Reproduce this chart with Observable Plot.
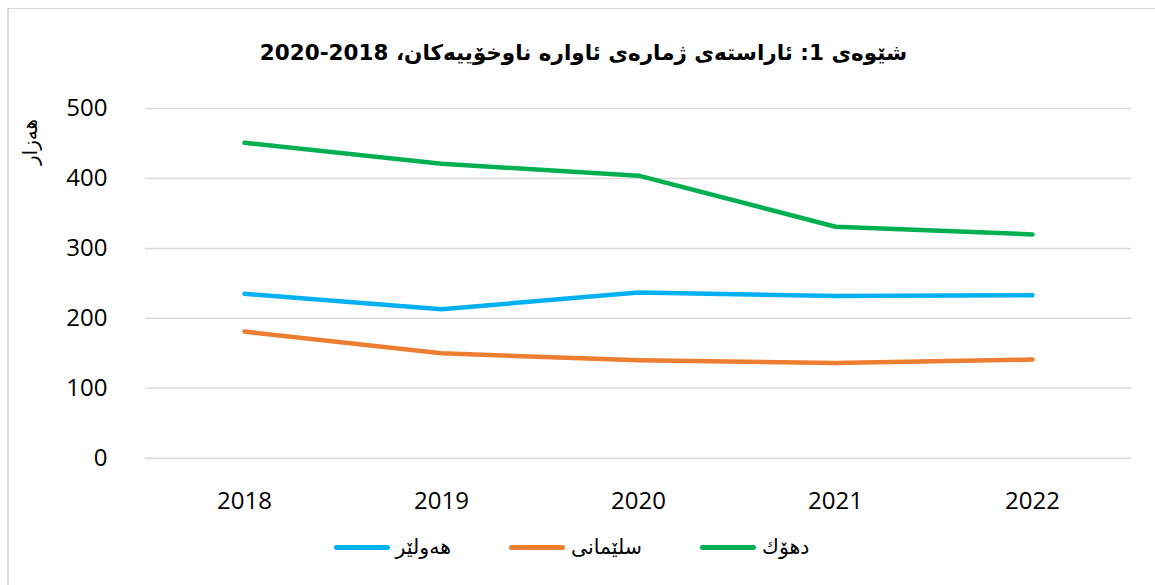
<!DOCTYPE html>
<html>
<head>
<meta charset="utf-8">
<script src="https://cdn.jsdelivr.net/npm/d3@7"></script>
<script src="https://cdn.jsdelivr.net/npm/@observablehq/plot@0.6"></script>
<style>
  html, body { margin: 0; padding: 0; background: #fff; }
  #wrap { position: relative; width: 1155px; height: 585px; overflow: hidden; background: #fff; }
  #frame { position: absolute; left: 7px; top: 8px; width: 1160px; height: 600px; border-top: 1px solid #d9d9d9; border-left: 2px solid #d9d9d9; box-sizing: border-box; }
  #title { position: absolute; left: 6px; top: 40px; width: 1155px; text-align: center; font-family: "DejaVu Sans", sans-serif; font-weight: bold; font-size: 21.5px; color: #000; direction: rtl; }
  #ylabel { position: absolute; left: 30px; top: 142px; transform: translate(-50%, -50%) rotate(-90deg); font-family: "DejaVu Sans", sans-serif; font-size: 20px; color: #000; white-space: nowrap; direction: rtl; }
  #chart { position: absolute; left: 0; top: 80px; }
  #legend { position: absolute; left: -6px; top: 535px; width: 1155px; display: flex; justify-content: center; direction: ltr; font-family: "DejaVu Sans", sans-serif; font-size: 20.5px; color: #000; }
  .item { display: flex; align-items: center; margin: 0 29px; }
  .sw { width: 56px; height: 5px; border-radius: 3px; margin-right: 6px; }
</style>
</head>
<body>
<div id="wrap">
  <div id="frame"></div>
  <div id="title"></div>
  <div id="ylabel"></div>
  <div id="chart"></div>
  <div id="legend"></div>
</div>
<script>
const titleText = "شێوەی 1: ئاراستەی ژمارەی ئاوارە ناوخۆییەکان، 2018-2020";
const yLabel = "هەزار";
const years = ["2018", "2019", "2020", "2021", "2022"];
const seriesNames = ["هەولێر", "سلێمانی", "دهۆك"];
const seriesColors = ["#00b0f0", "#ed7d31", "#00b050"];
const erbil = [235, 213, 237, 232, 233];
const sulaymaniyah = [181, 150, 140, 136, 141];
const duhok = [451, 421, 404, 331, 320];
const yTicks = [0, 100, 200, 300, 400, 500];

const seriesValues = [erbil, sulaymaniyah, duhok];
const data = [];
seriesNames.forEach((name, i) => {
  years.forEach((yr, j) => data.push({ series: name, year: yr, value: seriesValues[i][j] }));
});

document.getElementById("title").textContent = titleText;
document.getElementById("ylabel").textContent = yLabel;

const chart = Plot.plot({
  width: 1155,
  height: 450,
  marginLeft: 145,
  marginRight: 24,
  marginTop: 28,
  marginBottom: 72.3,
  style: { fontFamily: "'Open Sans', sans-serif", fontSize: "24px", color: "#000", background: "transparent" },
  x: { type: "point", domain: years, padding: 0.5, label: null },
  y: { domain: [0, 500], label: null },
  color: { domain: seriesNames, range: seriesColors },
  marks: [
    Plot.ruleY(yTicks, { stroke: "#d9d9d9", strokeWidth: 1.5 }),
    Plot.axisY({ ticks: yTicks, tickSize: 0, tickPadding: 38, label: null }),
    Plot.axisX({ tickSize: 0, tickPadding: 34, label: null }),
    Plot.line(data, { x: "year", y: "value", z: "series", stroke: "series", strokeWidth: 4.5, strokeLinecap: "round", strokeLinejoin: "round" })
  ]
});
document.getElementById("chart").appendChild(chart);

const legend = document.getElementById("legend");
seriesNames.forEach((name, i) => {
  const item = document.createElement("div");
  item.className = "item";
  const sw = document.createElement("div");
  sw.className = "sw";
  sw.style.background = seriesColors[i];
  const lab = document.createElement("span");
  lab.textContent = name;
  item.appendChild(sw);
  item.appendChild(lab);
  legend.appendChild(item);
});
</script>
</body>
</html>
